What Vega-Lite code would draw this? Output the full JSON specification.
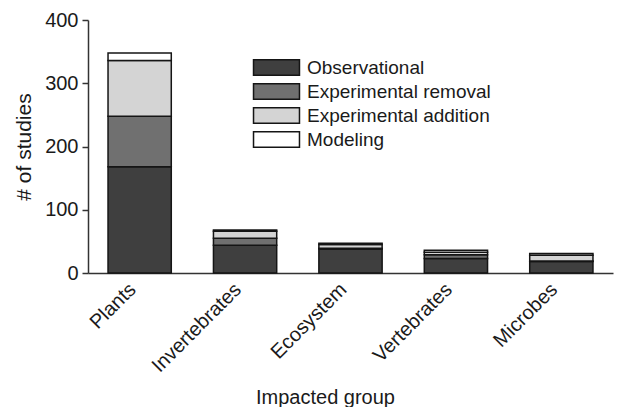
{
  "$schema": "https://vega.github.io/schema/vega-lite/v6.json",
  "autosize": "none",
  "width": 525,
  "height": 253,
  "padding": {"left": 88, "top": 20, "right": 13, "bottom": 134},
  "background": "white",
  "config": {
    "view": {"stroke": null},
    "font": "Liberation Sans",
    "axis": {"labelFont": "Liberation Sans", "titleFont": "Liberation Sans", "labelColor": "#1a1a1a", "titleColor": "#1a1a1a", "domainColor": "#333", "tickColor": "#333", "titleFontWeight": "normal", "domainWidth": 1.5, "tickWidth": 1.5}
  },
  "data": {
    "values": [
      {"group": "Plants", "type": "Observational", "k": 1, "n": 168},
      {"group": "Plants", "type": "Experimental removal", "k": 2, "n": 80},
      {"group": "Plants", "type": "Experimental addition", "k": 3, "n": 88},
      {"group": "Plants", "type": "Modeling", "k": 4, "n": 12},
      {"group": "Invertebrates", "type": "Observational", "k": 1, "n": 44},
      {"group": "Invertebrates", "type": "Experimental removal", "k": 2, "n": 11},
      {"group": "Invertebrates", "type": "Experimental addition", "k": 3, "n": 11},
      {"group": "Invertebrates", "type": "Modeling", "k": 4, "n": 2},
      {"group": "Ecosystem", "type": "Observational", "k": 1, "n": 38},
      {"group": "Ecosystem", "type": "Experimental removal", "k": 2, "n": 1},
      {"group": "Ecosystem", "type": "Experimental addition", "k": 3, "n": 6},
      {"group": "Ecosystem", "type": "Modeling", "k": 4, "n": 2},
      {"group": "Vertebrates", "type": "Observational", "k": 1, "n": 23},
      {"group": "Vertebrates", "type": "Experimental removal", "k": 2, "n": 6},
      {"group": "Vertebrates", "type": "Experimental addition", "k": 3, "n": 4},
      {"group": "Vertebrates", "type": "Modeling", "k": 4, "n": 3},
      {"group": "Microbes", "type": "Observational", "k": 1, "n": 18},
      {"group": "Microbes", "type": "Experimental removal", "k": 2, "n": 1},
      {"group": "Microbes", "type": "Experimental addition", "k": 3, "n": 9},
      {"group": "Microbes", "type": "Modeling", "k": 4, "n": 3}
    ]
  },
  "mark": {"type": "bar", "stroke": "#151515", "strokeWidth": 1.5},
  "encoding": {
    "x": {
      "field": "group", "type": "nominal",
      "sort": ["Plants", "Invertebrates", "Ecosystem", "Vertebrates", "Microbes"],
      "scale": {"paddingInner": 0.4, "paddingOuter": 0.19},
      "axis": {"title": "Impacted group", "labelAngle": -45, "labelAlign": "right", "labelBaseline": "top", "labelFontSize": 20, "titleFontSize": 20, "ticks": false, "labelPadding": 6, "labelOffset": -14, "titlePadding": 12, "titleX": 237}
    },
    "y": {
      "field": "n", "type": "quantitative", "stack": "zero",
      "scale": {"domain": [0, 400]},
      "axis": {"title": "# of studies", "values": [0, 100, 200, 300, 400], "grid": false, "labelFontSize": 20, "titleFontSize": 21, "tickSize": 6, "labelPadding": 4, "titlePadding": 10}
    },
    "color": {
      "field": "type", "type": "nominal",
      "sort": ["Observational", "Experimental removal", "Experimental addition", "Modeling"],
      "scale": {"domain": ["Observational", "Experimental removal", "Experimental addition", "Modeling"], "range": ["#3f3f3f", "#707070", "#d4d4d4", "#ffffff"]},
      "legend": {
        "title": null, "orient": "none", "legendX": 179, "legendY": 38,
        "symbolType": "M-4,-1.35H4V1.35H-4Z", "symbolSize": 132,
        "symbolStrokeColor": "#151515", "symbolStrokeWidth": 1.5, "symbolOpacity": 1,
        "labelFontSize": 19, "labelFont": "Liberation Sans", "labelColor": "#1a1a1a", "labelOffset": 21, "labelLimit": 400, "rowPadding": 1
      }
    },
    "order": {"field": "k", "type": "quantitative", "sort": "ascending"}
  }
}
